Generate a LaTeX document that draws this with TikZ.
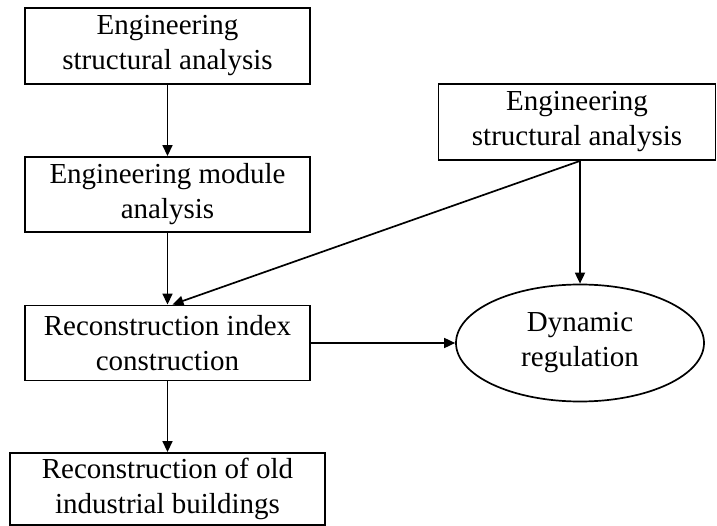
\documentclass[tikz,border=0pt]{standalone}
\usepackage{fontspec}
\setmainfont{Liberation Serif}
\usetikzlibrary{arrows.meta,shapes.geometric,calc}
\begin{document}
\begin{tikzpicture}[x=1pt,y=-1pt,
  every node/.style={font=\fontsize{29}{35}\selectfont, align=center, inner sep=0pt},
  box/.style={draw, line width=1.9pt, rectangle},
  oval/.style={draw, line width=1.7pt, ellipse},
  conn/.style={line width=1.7pt, -{Triangle[length=11pt,width=10pt]}}]
\useasboundingbox (0,0) rectangle (717,526);
\node[box, minimum width=285, minimum height=76] (b1) at (167.5,46) {Engineering\\structural analysis};
\node[box, minimum width=285, minimum height=75] (b2) at (167.5,194.5) {Engineering module\\analysis};
\node[box, minimum width=285, minimum height=75] (b3) at (167.5,343) {Reconstruction index\\construction};
\node[box, minimum width=315, minimum height=72] (b4) at (167.5,489) {Reconstruction of old\\industrial buildings};
\node[box, minimum width=277, minimum height=76] (b5) at (577,122) {Engineering\\structural analysis};
\node[oval, minimum width=248, minimum height=117] (e) at (580,343) {Dynamic\\regulation};
\coordinate (s5) at (e.north |- b5.south);
\coordinate (t3) at ($(b3.north)+(5,0)$);
\draw[conn] (b1.south) -- (b2.north);
\draw[conn] (b2.south) -- (b3.north);
\draw[conn] (b3.south) -- (b4.north);
\draw[conn] (s5) -- (e.north);
\draw[conn] (s5) -- (t3);
\draw[conn] (b3.east) -- (e.west);
\end{tikzpicture}
\end{document}
